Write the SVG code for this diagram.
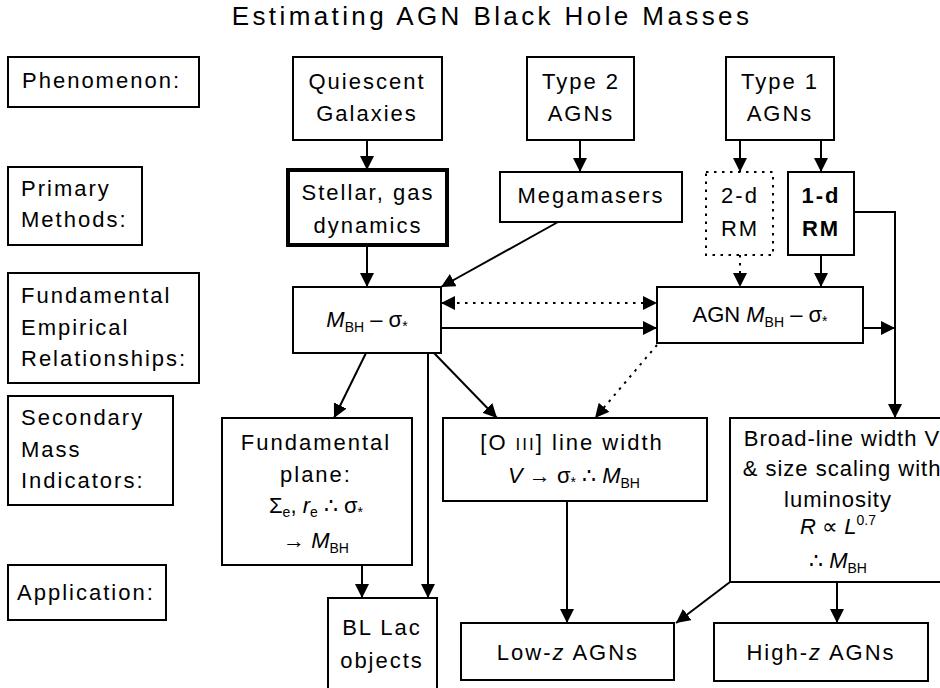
<svg xmlns="http://www.w3.org/2000/svg" width="940" height="688" viewBox="0 0 940 688">
<style>
.b{fill:#fff;stroke:#000;stroke-width:2}
.t{font-family:"Liberation Sans",Arial,sans-serif;font-size:22px;letter-spacing:2px;fill:#000}
.c{text-anchor:middle}
.m{letter-spacing:0}
.i{font-style:italic}
.s{font-size:14px}
.l{fill:none;stroke:#000;stroke-width:2}
.d{stroke-dasharray:2.5 5.5}
</style>
<defs>
<marker id="a" viewBox="0 0 14 14" refX="14" refY="7" markerWidth="14" markerHeight="14" markerUnits="userSpaceOnUse" orient="auto-start-reverse"><path d="M0,0 L14,7 L0,14 z" fill="#000"/></marker>
</defs>
<rect width="940" height="688" fill="#fff"/>
<text x="492" y="25" class="t c" style="font-size:26px;letter-spacing:3.4px">Estimating AGN Black Hole Masses</text>

<g id="connectors">
<path class="l" d="M367,140 V170" marker-end="url(#a)"/>
<path class="l" d="M580,140 V172" marker-end="url(#a)"/>
<path class="l" d="M740,140 V172" marker-end="url(#a)"/>
<path class="l" d="M821,140 V172" marker-end="url(#a)"/>
<path class="l" d="M367,245 V287" marker-end="url(#a)"/>
<path class="l" d="M558,222 L441,287" marker-end="url(#a)"/>
<path class="l d" d="M740,255 V287" marker-end="url(#a)"/>
<path class="l" d="M821,255 V287" marker-end="url(#a)"/>
<path class="l d" d="M441,303 H657" marker-start="url(#a)" marker-end="url(#a)"/>
<path class="l" d="M441,328 H657" marker-end="url(#a)"/>
<path class="l" d="M863,328 H895" marker-end="url(#a)"/>
<path class="l" d="M854,212 H895 V418" marker-end="url(#a)"/>
<path class="l" d="M366,353 L334,418" marker-end="url(#a)"/>
<path class="l" d="M434,353 L497,418" marker-end="url(#a)"/>
<path class="l d" d="M657,345 L595,418" marker-end="url(#a)"/>
<path class="l" d="M428,353 V598" marker-end="url(#a)"/>
<path class="l" d="M362,565 V598" marker-end="url(#a)"/>
<path class="l" d="M567,501 V623" marker-end="url(#a)"/>
<path class="l" d="M837,582 V623" marker-end="url(#a)"/>
<path class="l" d="M730,582 L676,623" marker-end="url(#a)"/>
</g>

<g id="lbl-phenomenon"><rect class="b" x="8" y="57" width="191" height="50"/><text x="22" y="88" class="t">Phenomenon:</text></g>
<g id="lbl-primary"><rect class="b" x="8" y="167" width="134" height="78"/><text x="21" y="196" class="t">Primary</text><text x="21" y="227" class="t">Methods:</text></g>
<g id="lbl-fundamental"><rect class="b" x="8" y="273" width="191" height="110"/><text x="21" y="303" class="t">Fundamental</text><text x="21" y="335" class="t">Empirical</text><text x="21" y="366" class="t">Relationships:</text></g>
<g id="lbl-secondary"><rect class="b" x="8" y="396" width="165" height="109"/><text x="21" y="425" class="t">Secondary</text><text x="21" y="457" class="t">Mass</text><text x="21" y="488" class="t">Indicators:</text></g>
<g id="lbl-application"><rect class="b" x="8" y="565" width="158" height="55"/><text x="17" y="600" class="t">Application:</text></g>

<g id="quiescent"><rect class="b" x="293" y="57" width="149" height="83"/><text x="367" y="89" class="t c">Quiescent</text><text x="367" y="121" class="t c">Galaxies</text></g>
<g id="type2"><rect class="b" x="527" y="57" width="107" height="83"/><text x="581" y="89" class="t c">Type 2</text><text x="581" y="121" class="t c">AGNs</text></g>
<g id="type1"><rect class="b" x="726" y="57" width="108" height="83"/><text x="780" y="89" class="t c">Type 1</text><text x="780" y="121" class="t c">AGNs</text></g>

<g id="stellar"><rect class="b" x="288" y="170" width="159" height="75" style="stroke-width:4"/><text x="368" y="200" class="t c">Stellar, gas</text><text x="368" y="233" class="t c">dynamics</text></g>
<g id="megamasers"><rect class="b" x="500" y="172" width="182" height="50"/><text x="591" y="203" class="t c">Megamasers</text></g>
<g id="rm2d"><rect class="b d" x="706" y="172" width="67" height="83"/><text x="740" y="203" class="t c">2-d</text><text x="740" y="236" class="t c">RM</text></g>
<g id="rm1d"><rect class="b" x="788" y="172" width="66" height="83"/><text x="821" y="203" class="t c" font-weight="bold">1-d</text><text x="821" y="236" class="t c" font-weight="bold">RM</text></g>

<g id="msigma"><rect class="b" x="293" y="287" width="148" height="66"/><text x="367" y="327" class="t c m"><tspan class="i">M</tspan><tspan class="s" dy="5">BH</tspan><tspan dy="-5"> – σ</tspan><tspan class="s" dy="4">*</tspan></text></g>
<g id="agn-msigma"><rect class="b" x="657" y="287" width="206" height="56"/><text x="760" y="322" class="t c m">AGN <tspan class="i">M</tspan><tspan class="s" dy="5">BH</tspan><tspan dy="-5"> – σ</tspan><tspan class="s" dy="4">*</tspan></text></g>

<g id="fplane"><rect class="b" x="222" y="418" width="190" height="147"/><text x="316" y="450" class="t c">Fundamental</text><text x="316" y="482" class="t c">plane:</text><text x="316" y="513" class="t c m">Σ<tspan class="s" dy="4">e</tspan><tspan dy="-4">, </tspan><tspan class="i">r</tspan><tspan class="s" dy="4">e</tspan><tspan dy="-4"> ∴ σ</tspan><tspan class="s" dy="4">*</tspan></text><text x="316" y="548" class="t c m">→ <tspan class="i">M</tspan><tspan class="s" dy="5">BH</tspan></text></g>
<g id="oiii"><rect class="b" x="443" y="418" width="264" height="83"/><text x="572" y="450" class="t c">[O <tspan style="font-size:17px">III</tspan>] line width</text><text x="574" y="483" class="t c m"><tspan class="i">V</tspan> → σ<tspan class="s" dy="4">*</tspan><tspan dy="-4"> ∴ </tspan><tspan class="i">M</tspan><tspan class="s" dy="5">BH</tspan></text></g>
<g id="broadline"><rect class="b" x="730" y="418" width="222" height="164"/><text x="842" y="446" class="t c" style="letter-spacing:1px">Broad-line width V</text><text x="842" y="476" class="t c" style="letter-spacing:1px">&amp; size scaling with</text><text x="838" y="507" class="t c" style="letter-spacing:1px">luminosity</text><text x="838" y="534" class="t c m"><tspan class="i">R</tspan> ∝ <tspan class="i">L</tspan><tspan class="s" dy="-9">0.7</tspan></text><text x="838" y="568" class="t c m">∴ <tspan class="i">M</tspan><tspan class="s" dy="5">BH</tspan></text></g>

<g id="bllac"><rect class="b" x="328" y="598" width="109" height="100"/><text x="382" y="635" class="t c">BL Lac</text><text x="382" y="668" class="t c">objects</text></g>
<g id="lowz"><rect class="b" x="461" y="623" width="213" height="57"/><text x="568" y="660" class="t c">Low-<tspan class="i">z</tspan> AGNs</text></g>
<g id="highz"><rect class="b" x="714" y="623" width="214" height="58"/><text x="821" y="660" class="t c">High-<tspan class="i">z</tspan> AGNs</text></g>
</svg>
